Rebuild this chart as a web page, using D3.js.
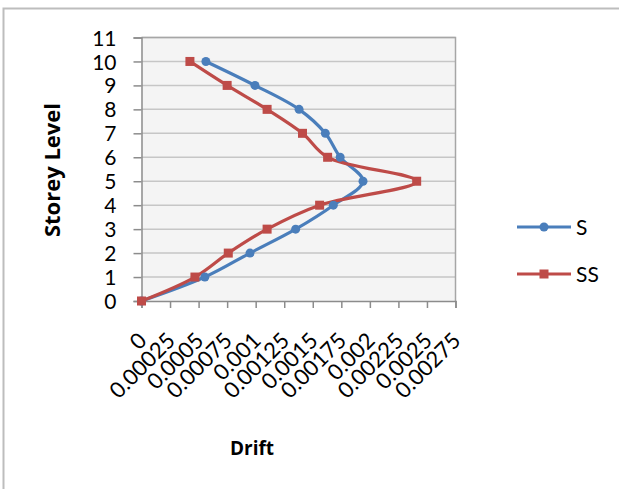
<!DOCTYPE html>
<html>
<head>
<meta charset="utf-8">
<script src="https://cdn.jsdelivr.net/npm/d3@7"></script>
<style>
  body { margin: 0; background: #fff; }
  text { font-family: Lato, "Open Sans", sans-serif; fill: #000; }
</style>
</head>
<body>
<svg id="chart" width="619" height="489"></svg>
<script>
// storey levels and drift values
var levels = [0, 1, 2, 3, 4, 5, 6, 7, 8, 9, 10];
var driftS  = [0, 0.000555, 0.00095, 0.00135, 0.00168, 0.00194, 0.00174, 0.00161, 0.00138, 0.000994, 0.000564];
var driftSS = [0, 0.000468, 0.00076, 0.0011, 0.00156, 0.00241, 0.00163, 0.00141, 0.0011, 0.00075, 0.000424];
var seriesNames = ["S", "SS"];
var xTicks = [0, 0.00025, 0.0005, 0.00075, 0.001, 0.00125, 0.0015, 0.00175, 0.002, 0.00225, 0.0025, 0.00275];
var yTicks = [0, 1, 2, 3, 4, 5, 6, 7, 8, 9, 10, 11];

var colors = ["#4a7ebb", "#be4b48"];

var svg = d3.select("#chart");
var plot = {left: 141.5, top: 37.5, right: 455.5, bottom: 301};

// outer chart frame (only top and left edges show)
svg.append("path")
    .attr("d", "M3.5,489 L3.5,8.5 L619,8.5")
    .attr("fill", "none")
    .attr("stroke", "#bdbdbd")
    .attr("stroke-width", 2);

var xscale = d3.scaleLinear().domain([0, 0.00275]).range([plot.left, plot.right]);
var yscale = d3.scaleLinear().domain([0, 11]).range([plot.bottom, plot.top]);

// plot background
svg.append("rect")
    .attr("x", plot.left).attr("y", plot.top)
    .attr("width", plot.right - plot.left).attr("height", plot.bottom - plot.top)
    .attr("fill", "#f4f4f4");

// gridlines
svg.append("g").selectAll("line")
    .data(yTicks.slice(1))
    .enter().append("line")
    .attr("x1", plot.left).attr("x2", plot.right)
    .attr("y1", function(d) { return yscale(d); })
    .attr("y2", function(d) { return yscale(d); })
    .attr("stroke", "#c6c6c6")
    .attr("stroke-width", 1.5);

// plot border top/right
svg.append("path")
    .attr("d", "M" + plot.left + "," + plot.top + " L" + plot.right + "," + plot.top + " L" + plot.right + "," + plot.bottom)
    .attr("fill", "none")
    .attr("stroke", "#a6a6a6")
    .attr("stroke-width", 1.5);

// y axis
var yAxis = svg.append("g")
    .attr("transform", "translate(" + plot.left + ",0)")
    .call(d3.axisLeft(yscale).tickValues(yTicks).tickSize(8).tickPadding(17).tickFormat(d3.format("d")));
yAxis.selectAll("text").style("font-size", "21px").attr("dy", "0.36em");

// x axis
var xAxis = svg.append("g")
    .attr("transform", "translate(0," + plot.bottom + ")")
    .call(d3.axisBottom(xscale).tickValues(xTicks).tickSize(7).tickFormat(function(d) { return String(+d.toFixed(5)); }));
xAxis.selectAll("text")
    .style("font-size", "22px")
    .attr("text-anchor", "end")
    .attr("y", 0).attr("dy", 0)
    .attr("transform", "translate(6,41) rotate(-45)");

svg.selectAll(".domain, .tick line").attr("stroke", "#8c8c8c").attr("stroke-width", 1.5);

// axis titles
svg.append("text")
    .attr("transform", "translate(60,170) rotate(-90)")
    .attr("text-anchor", "middle")
    .style("font-family", "'Open Sans', sans-serif")
    .style("font-size", "22px")
    .style("font-weight", "bold")
    .text("Storey Level");

svg.append("text")
    .attr("x", 252).attr("y", 455)
    .attr("text-anchor", "middle")
    .style("font-family", "'Open Sans', sans-serif")
    .style("font-size", "19px")
    .style("font-weight", "bold")
    .text("Drift");

// series
var series = [driftS, driftSS];
var line = d3.line()
    .x(function(d) { return xscale(d[0]); })
    .y(function(d) { return yscale(d[1]); })
    .curve(d3.curveCatmullRom.alpha(0.5));

series.forEach(function(vals, si) {
  var pts = vals.map(function(v, i) { return [v, levels[i]]; });
  svg.append("path")
      .attr("d", line(pts))
      .attr("fill", "none")
      .attr("stroke", colors[si])
      .attr("stroke-width", 3.2)
      .attr("stroke-linejoin", "round");
});

// markers
svg.append("g").selectAll("circle")
    .data(driftS)
    .enter().append("circle")
    .attr("cx", function(d) { return xscale(d); })
    .attr("cy", function(d, i) { return yscale(levels[i]); })
    .attr("r", 4.5)
    .attr("fill", colors[0]);

svg.append("g").selectAll("rect")
    .data(driftSS)
    .enter().append("rect")
    .attr("x", function(d) { return xscale(d) - 4.5; })
    .attr("y", function(d, i) { return yscale(levels[i]) - 4.5; })
    .attr("width", 9).attr("height", 9)
    .attr("fill", colors[1]);

// legend
var legend = svg.append("g");
var legY = [227, 274];
seriesNames.forEach(function(name, i) {
  legend.append("line")
      .attr("x1", 517).attr("x2", 571)
      .attr("y1", legY[i]).attr("y2", legY[i])
      .attr("stroke", colors[i]).attr("stroke-width", 3.2);
  if (i === 0) {
    legend.append("circle").attr("cx", 544).attr("cy", legY[i]).attr("r", 4.5).attr("fill", colors[i]);
  } else {
    legend.append("rect").attr("x", 539.5).attr("y", legY[i] - 4.5).attr("width", 9).attr("height", 9).attr("fill", colors[i]);
  }
  legend.append("text")
      .attr("x", 576).attr("y", legY[i])
      .attr("dy", "0.36em")
      .style("font-size", "21px")
      .text(name);
});
</script>
</body>
</html>
